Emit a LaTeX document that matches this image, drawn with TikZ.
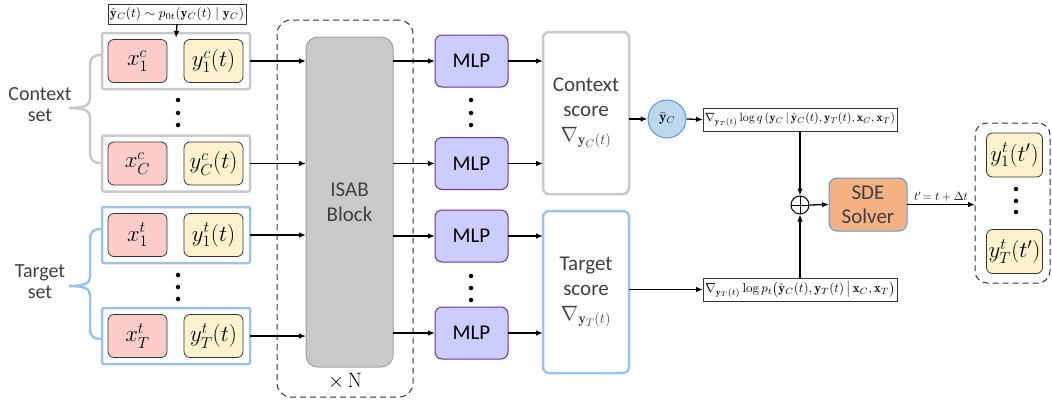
\documentclass[tikz,border=0pt]{standalone}
\usepackage{amsmath}
\usepackage{graphicx}
\usepackage{fontspec}
\setsansfont{Carlito}
\usetikzlibrary{arrows.meta,calc}

\definecolor{setgray}{HTML}{C9C9C9}
\definecolor{setblue}{HTML}{9DC3E6}
\definecolor{xpink}{HTML}{FFCCCC}
\definecolor{yyellow}{HTML}{FFF2CC}
\definecolor{isabfill}{HTML}{C9C9C9}
\definecolor{isabdraw}{HTML}{A0A0A0}
\definecolor{mlpfill}{HTML}{CCCCFF}
\definecolor{mlpdraw}{HTML}{7030A0}
\definecolor{circfill}{HTML}{BDD7EE}
\definecolor{circdraw}{HTML}{5B9BD5}
\definecolor{sdefill}{HTML}{F4B183}
\definecolor{sdedraw}{HTML}{5B9BD5}
\definecolor{txtgray}{HTML}{404040}

% math set slightly above the nearest font size
\newcommand{\cellmath}[1]{\scalebox{1.1}{$#1$}}

\tikzset{
  box/.style={rectangle, inner sep=0pt, outer sep=0pt},
  setctx/.style={box, draw=setgray, line width=2.5pt, rounded corners=2pt,
    minimum width=148pt, minimum height=56pt},
  settgt/.style={setctx, draw=setblue},
  cellbase/.style={box, draw=black!80, line width=0.8pt, rounded corners=6pt,
    font=\fontsize{20.74}{25}\selectfont},
  xcell/.style={cellbase, fill=xpink, minimum width=59pt, minimum height=43pt},
  ycell/.style={cellbase, fill=yyellow, minimum width=59pt, minimum height=43pt},
  ocell/.style={cellbase, fill=yyellow, minimum width=56pt, minimum height=44pt},
  mlp/.style={box, draw=mlpdraw, fill=mlpfill, line width=1pt, rounded corners=7pt,
    minimum width=73pt, minimum height=52pt, font=\sffamily\fontsize{21}{25}\selectfont},
  score/.style={box, line width=2.5pt, rounded corners=6pt, fill=white,
    minimum width=86pt, minimum height=162pt, align=center, text=txtgray,
    font=\sffamily\fontsize{21}{25}\selectfont},
  formula/.style={box, draw=black!80, line width=0.8pt, fill=white, inner xsep=2pt,
    minimum height=23pt},
  dashbox/.style={box, draw=black!80, line width=1pt, dash pattern=on 6pt off 4pt,
    rounded corners=14pt},
  settext/.style={text=txtgray, font=\sffamily\fontsize{20}{24}\selectfont, align=center},
  dotmark/.style={circle, fill=black, inner sep=0pt, minimum size=4.5pt},
  arr/.style={-{Latex[length=7pt,width=5.5pt]}, line width=1.3pt},
}

\begin{document}
\begin{tikzpicture}[x=1pt,y=-1pt]
\useasboundingbox (0,0) rectangle (1052,400);

% stacked-block frame (repeated N times)
\node[dashbox, minimum width=136pt, minimum height=377pt] (rep) at (345,208.5) {};
\node[font=\fontsize{20.74}{24}\selectfont] (times) at (345,381) {$\times\,\mathrm{N}$};

% context set
\node[setctx] (c1) at (176,61) {};
\node[setctx] (c2) at (176,163.5) {};
\node[xcell] (xc1) at (137.5,61) {\cellmath{x_1^c}};
\node[ycell] (yc1) at (213.5,61) {\cellmath{y_1^c(t)}};
\node[xcell] (xc2) at (137.5,163.5) {\cellmath{x_C^c}};
\node[ycell] (yc2) at (213.5,163.5) {\cellmath{y_C^c(t)}};
\foreach \yy [count=\i] in {100,113,125} \node[dotmark] (cd\i) at (178,\yy) {};

% target set
\node[settgt] (t1) at (176,235) {};
\node[settgt] (t2) at (176,336) {};
\node[xcell] (xt1) at (137.5,235) {\cellmath{x_1^t}};
\node[ycell] (yt1) at (213.5,235) {\cellmath{y_1^t(t)}};
\node[xcell] (xt2) at (137.5,336) {\cellmath{x_T^t}};
\node[ycell] (yt2) at (213.5,336) {\cellmath{y_T^t(t)}};
\foreach \yy [count=\i] in {275,287,299} \node[dotmark] (td\i) at (178,\yy) {};

% braces and set labels
\draw[setgray, line width=2.5pt] (101,55) .. controls (93,55) and (90,58) .. (90,66)
  -- (90,99) .. controls (90,105) and (85,108) .. (69,108)
  .. controls (85,108) and (90,111) .. (90,117) -- (90,152)
  .. controls (90,160) and (93,163) .. (101,163);
\draw[setblue, line width=2.5pt] (101,229) .. controls (93,229) and (90,232) .. (90,240)
  -- (90,277) .. controls (90,283) and (85,286) .. (69,286)
  .. controls (85,286) and (90,289) .. (90,295) -- (90,328)
  .. controls (90,336) and (93,339) .. (101,339);
\node[settext] (ctxlab) at (40,105) {Context\\[-3pt]set};
\node[settext] (tgtlab) at (40,282) {Target\\[-3pt]set};

% noisy context sample
\node[formula, minimum height=20pt] (samp) at (177,14)
  {\resizebox{134pt}{!}{$\hat{\mathbf{y}}_{C}(t)\sim p_{0t}(\mathbf{y}_{C}(t)\mid\mathbf{y}_{C})$}};
\draw[arr] (samp.south) -- ($(c1.north)+(0,5)$);

% ISAB block
\node[box, draw=isabdraw, fill=isabfill, line width=1pt, rounded corners=12pt,
  minimum width=87pt, minimum height=330pt, align=center, text=txtgray,
  font=\sffamily\fontsize{21}{25}\selectfont] (isab) at (349.5,202) {ISAB\\Block};

% MLP heads
\node[mlp] (m1) at (471.5,61) {MLP};
\node[mlp] (m2) at (471.5,163.5) {MLP};
\node[mlp] (m3) at (471.5,236) {MLP};
\node[mlp] (m4) at (471.5,333) {MLP};
\foreach \yy [count=\i] in {100,113,125} \node[dotmark] (md\i) at (471,\yy) {};
\foreach \yy [count=\i] in {276,288,300} \node[dotmark] (me\i) at (471,\yy) {};

% score blocks
\node[score, draw=setgray] (cs) at (586,113)
  {Context\\score\\$\nabla_{\mathbf{y}_{C}(t)}$};
\node[score, draw=setblue] (ts) at (586,292)
  {Target\\score\\$\nabla_{\mathbf{y}_{T}(t)}$};

% inputs into ISAB, ISAB into MLPs, MLPs into scores
\foreach \s in {c1,c2,t1,t2} \draw[arr] (\s.east) -- (\s.east -| isab.west);
\foreach \m in {m1,m2,m3,m4} {
  \draw[arr] (\m.west -| isab.east) -- (\m.west);
  \draw[arr] (\m.east) -- (\m.east -| cs.west);
}

% context mean and guidance terms
\node[circle, draw=circdraw, fill=circfill, line width=1pt, minimum size=38pt,
  inner sep=0pt, font=\fontsize{14.4}{17}\selectfont] (ybar) at (667,119) {$\bar{\mathbf{y}}_{C}$};
\node[formula] (fq) at (800,119.5)
  {\resizebox{190pt}{!}{$\nabla_{\mathbf{y}_{T}(t)}\log q\,(\mathbf{y}_{C}\,|\,\hat{\mathbf{y}}_{C}(t),\mathbf{y}_{T}(t),\mathbf{x}_{C},\mathbf{x}_{T})$}};
\node[formula] (fp) at (800,289.5)
  {\resizebox{190pt}{!}{$\nabla_{\mathbf{y}_{T}(t)}\log p_t\big(\hat{\mathbf{y}}_{C}(t),\mathbf{y}_{T}(t)\,\big|\,\mathbf{x}_{C},\mathbf{x}_{T}\big)$}};
\draw[arr] (ybar.west -| cs.east) -- (ybar.west);
\draw[arr] (ybar.east) -- (fq.west);
\draw[arr] (fp.west -| ts.east) -- (fp.west);

% sum of both terms
\node[circle, draw=black, line width=1pt, minimum size=18pt, inner sep=0pt,
  path picture={\draw[line width=0.8pt]
    (path picture bounding box.north) -- (path picture bounding box.south)
    (path picture bounding box.west) -- (path picture bounding box.east);}]
  (plus) at (800,205) {};
\draw[arr] (fq.south) -- (plus.north);
\draw[arr] (fp.north) -- (plus.south);

% SDE solver
\node[box, draw=sdedraw, fill=sdefill, line width=1pt, rounded corners=8pt,
  minimum width=78pt, minimum height=53pt, align=center, text=txtgray,
  font=\sffamily\fontsize{21}{24}\selectfont] (sde) at (868,204.5) {SDE\\Solver};
\draw[arr] (plus.east) -- (sde.west);

% updated targets
\node[dashbox, rounded corners=12pt, minimum width=75pt, minimum height=160pt] (out) at (1012.5,203) {};
\node[ocell] (o1) at (1014.5,155) {\cellmath{y_1^t(t')}};
\node[ocell] (o2) at (1014.5,251.5) {\cellmath{y_T^t(t')}};
\foreach \yy [count=\i] in {189,201,212} \node[dotmark] (od\i) at (1016,\yy) {};
\draw[arr] (sde.east) -- node[above, font=\fontsize{12}{14}\selectfont, inner sep=2pt]
  {$t'\!=t+\Delta t$} (sde.east -| out.west);
\end{tikzpicture}
\end{document}
